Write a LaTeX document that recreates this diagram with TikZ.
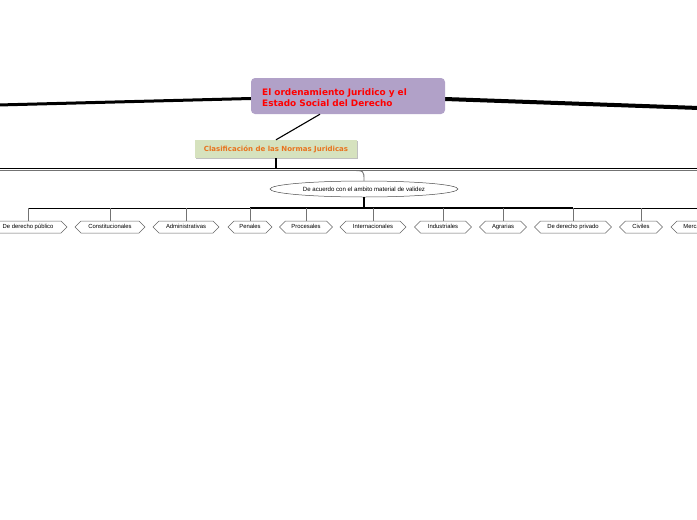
\documentclass[tikz,border=0pt]{standalone}
\usepackage{fontspec}
\setmainfont{DejaVu Sans}
\newfontfamily\smallsans{Liberation Sans}
\usetikzlibrary{shapes.symbols,shapes.geometric,shadows}
\definecolor{rootfill}{HTML}{B1A1C8}
\definecolor{rootred}{HTML}{FF0000}
\definecolor{clasfill}{HTML}{D6E2BE}
\definecolor{clasorange}{HTML}{E8731E}
\tikzset{
  rootbox/.style={draw=none, fill=rootfill, rounded corners=4pt, minimum width=194pt, minimum height=36pt, inner sep=0pt},
  roottext/.style={align=left, font=\fontsize{8.9}{10.2}\selectfont\bfseries, text=rootred, inner sep=0pt},
  clasbox/.style={draw=none, fill=clasfill, minimum width=162pt, minimum height=18pt, inner sep=0pt,
    font=\fontsize{7}{8}\selectfont\bfseries, text=clasorange,
    drop shadow={shadow xshift=1pt, shadow yshift=-1pt, opacity=0.25, fill=black}},
  ellbox/.style={ellipse, draw=black!70, line width=0.5pt, fill=white, minimum width=188pt, minimum height=16pt,
    inner sep=0pt, font=\smallsans\fontsize{6.1}{7}\selectfont},
  hexbox/.style={signal, signal to=east and west, draw=black!60, line width=0.5pt, fill=white,
    minimum height=12pt, inner sep=0pt, text height=4.3pt, text depth=1.3pt,
    font=\smallsans\fontsize{5.9}{7}\selectfont},
  tick/.style={draw=black!55, line width=0.6pt},
}
\begin{document}
\begin{tikzpicture}[x=1pt,y=-1pt]
\useasboundingbox (0,0) rectangle (697,520);
\clip (0,0) rectangle (697,520);
\fill[white] (0,0) rectangle (697,520);

% off-screen ends
\coordinate (offL) at (-2,105);
\coordinate (offR) at (699,108);
\coordinate (rootL) at (251,98.5);
\coordinate (rootR) at (445,99);

% main connectors from root
\draw[line width=3pt, line cap=round] (offL) -- (rootL);
\draw[line width=4pt] (rootR) -- (offR);

% root node
\node[rootbox] (root) at (348,96) {};
\node[roottext, anchor=north west] (roottxt) at (262,89) {El ordenamiento Juridico y el\\Estado Social del Derecho};

% clasificacion
\node[clasbox] (clas) at (276,149) {Clasificación de las Normas Juridicas};
\draw[line width=1.1pt] (root.south) ++(-28,0) coordinate (rs) -- (clas.north);

% branch lines
\coordinate (bl) at (-2,168.5);
\coordinate (br) at (699,168.5);
\coordinate (cb) at (clas.south |- bl);
\draw[line width=1.1pt] (clas.south) -- (cb);
\draw[line width=1.1pt] (bl) -- (br);

\node[ellbox] (ell) at (364,189) {De acuerdo con el ambito material de validez};

\coordinate (gl) at (-2,170.5);
\coordinate (gr) at (699,170.5);
\draw[black!55, line width=0.9pt] (gl) -- (352,170.5) .. controls (364,170.5) .. (ell.north);
\draw[black!55, line width=0.9pt] (gr) -- (352,170.5);

% children bus
\coordinate (bus) at (364,208);
\draw[line width=2pt] (ell.south) -- (bus);

% children
\foreach \name/\cx/\w/\txt in {
  c1/28/78/De derecho público,
  c2/110/70/Constitucionales,
  c3/186/66/Administrativas,
  c4/250/44/Penales,
  c5/306/53/Procesales,
  c6/373/66/Internacionales,
  c7/443/57/Industriales,
  c8/503/47/Agrarias,
  c9/573/77/De derecho privado,
  c10/641/43/Civiles,
  c11/698.5/55/Mercantiles}{
  \node[hexbox, minimum width=\w pt] (\name) at (\cx,227) {\txt};
}
\draw[line width=1pt] (c1.north |- bus) -- (c11.north |- bus);
\draw[line width=1.4pt] (c4.north |- bus) -- (c9.north |- bus);
\foreach \name in {c1,c2,c3,c4,c5,c6,c7,c8,c9,c10,c11}{
  \draw[tick] (\name.north |- bus) -- (\name.north);
}
\end{tikzpicture}
\end{document}
